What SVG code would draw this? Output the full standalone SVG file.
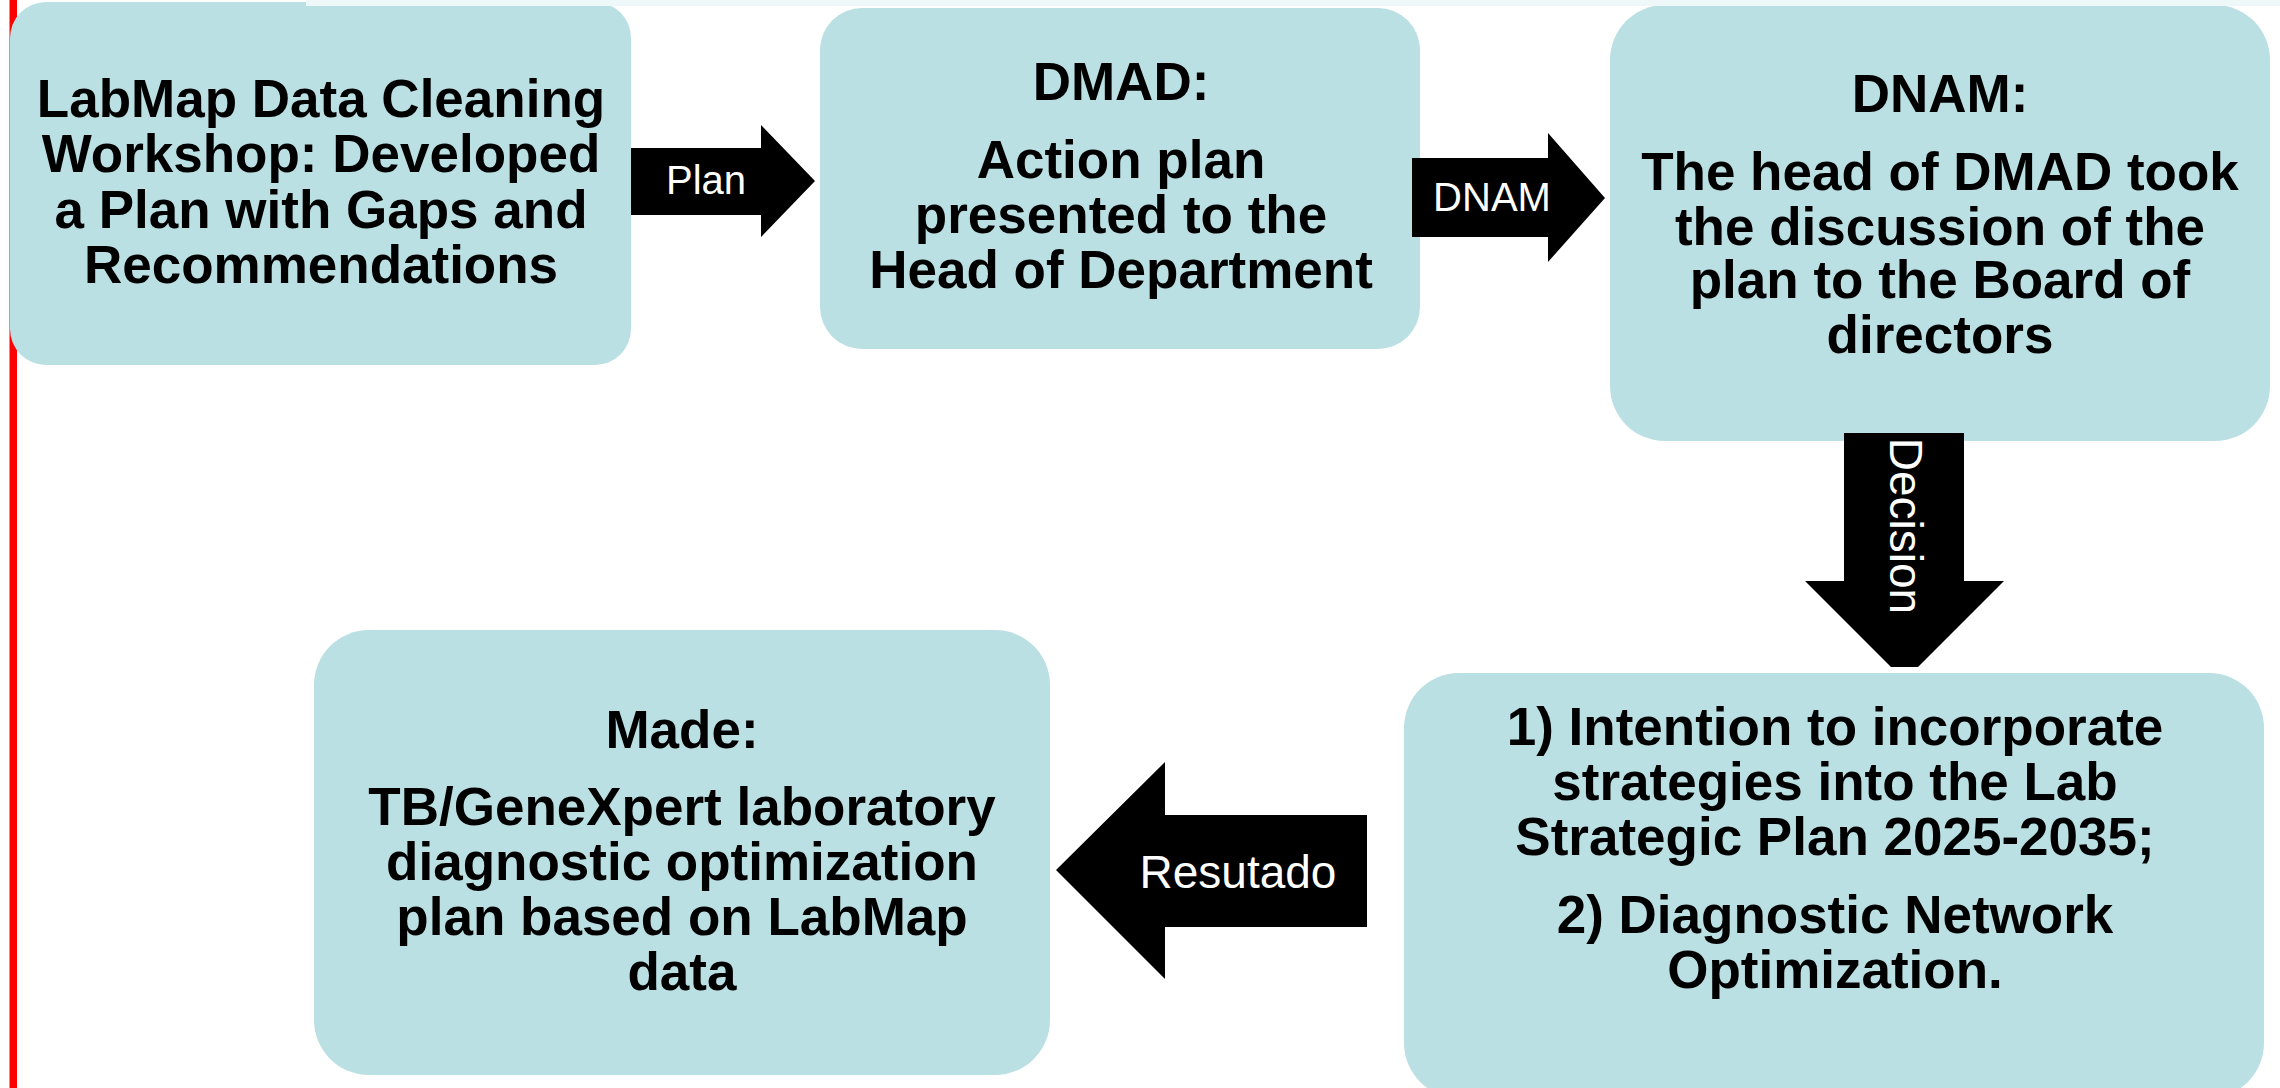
<svg xmlns="http://www.w3.org/2000/svg" width="2280" height="1088" viewBox="0 0 2280 1088">
  <style>
    .box { fill: #bae0e4; }
    .nt { font-family: "Liberation Sans", Arial, sans-serif; font-weight: bold; font-size: 53px; fill: #000; text-anchor: middle; }
    .arrow { fill: #000; }
    .al { font-family: "Liberation Sans", Arial, sans-serif; fill: #fff; text-anchor: middle; }
  </style>
  <rect x="0" y="0" width="2280" height="1088" fill="#ffffff"/>
  <rect x="9.5" y="0" width="7.5" height="1088" fill="#ff0000"/>

  <g id="node-workshop">
    <rect class="box" x="10" y="2" width="621" height="363" rx="36" ry="36"/>
    <text class="nt" x="321" y="117">LabMap Data Cleaning</text>
    <text class="nt" x="321" y="172">Workshop: Developed</text>
    <text class="nt" x="321" y="228">a Plan with Gaps and</text>
    <text class="nt" x="321" y="283">Recommendations</text>
  </g>

  <g id="node-dmad">
    <rect class="box" x="820" y="8" width="600" height="341" rx="42" ry="42"/>
    <text class="nt" x="1121" y="100">DMAD:</text>
    <text class="nt" x="1121" y="178">Action plan</text>
    <text class="nt" x="1121" y="233">presented to the</text>
    <text class="nt" x="1121" y="288">Head of Department</text>
  </g>

  <g id="node-dnam">
    <rect class="box" x="1610" y="5" width="660" height="436" rx="55" ry="55"/>
    <text class="nt" x="1940" y="112">DNAM:</text>
    <text class="nt" x="1940" y="190">The head of DMAD took</text>
    <text class="nt" x="1940" y="245">the discussion of the</text>
    <text class="nt" x="1940" y="298">plan to the Board of</text>
    <text class="nt" x="1940" y="353">directors</text>
  </g>

  <g id="node-decision">
    <rect class="box" x="1404" y="673" width="860" height="425" rx="55" ry="55"/>
    <text class="nt" x="1835" y="745">1) Intention to incorporate</text>
    <text class="nt" x="1835" y="800">strategies into the Lab</text>
    <text class="nt" x="1835" y="855">Strategic Plan 2025-2035;</text>
    <text class="nt" x="1835" y="933">2) Diagnostic Network</text>
    <text class="nt" x="1835" y="988">Optimization.</text>
  </g>

  <g id="node-made">
    <rect class="box" x="314" y="630" width="736" height="445" rx="55" ry="55"/>
    <text class="nt" x="682" y="748">Made:</text>
    <text class="nt" x="682" y="825">TB/GeneXpert laboratory</text>
    <text class="nt" x="682" y="880">diagnostic optimization</text>
    <text class="nt" x="682" y="935">plan based on LabMap</text>
    <text class="nt" x="682" y="990">data</text>
  </g>

  <rect x="306" y="0" width="1974" height="6" fill="#eff8f8"/>

  <g id="connectors">
    <g id="arrow-plan">
      <polygon class="arrow" points="631,148 761,148 761,125 815,181 761,237 761,215 631,215"/>
      <text class="al" x="706" y="194" font-size="40">Plan</text>
    </g>
    <g id="arrow-dnam">
      <polygon class="arrow" points="1412,158 1548,158 1548,133 1605,198 1548,262 1548,237 1412,237"/>
      <text class="al" x="1492" y="211" font-size="40">DNAM</text>
    </g>
    <g id="arrow-decision">
      <polygon class="arrow" points="1844,433 1964,433 1964,581 2004,581 1918,667 1891,667 1805,581 1844,581"/>
      <text class="al" x="1890" y="526" font-size="46" transform="rotate(90 1890 526)">Decision</text>
    </g>
    <g id="arrow-resutado">
      <polygon class="arrow" points="1367,815 1367,927 1165,927 1165,979 1056,870 1165,762 1165,815"/>
      <text class="al" x="1238" y="888" font-size="46">Resutado</text>
    </g>
  </g>
</svg>
